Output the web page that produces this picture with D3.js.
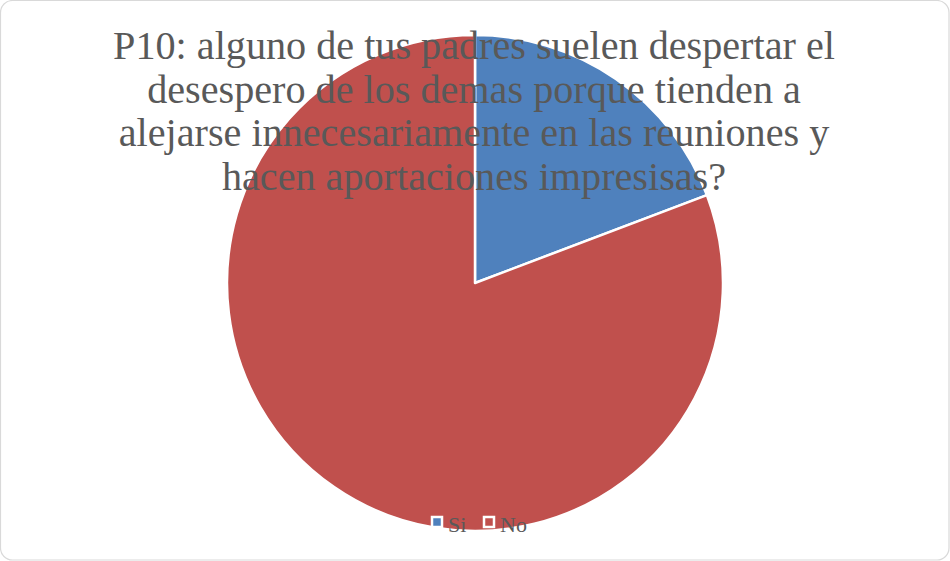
<!DOCTYPE html>
<html>
<head>
<meta charset="utf-8">
<script src="https://cdn.jsdelivr.net/npm/d3@7/dist/d3.min.js"></script>
<style>
  html, body { margin: 0; padding: 0; background: #fff; }
</style>
</head>
<body>
<svg id="chart"></svg>
<script>
// Data
const categories = ['Si', 'No'];
const values = [5, 21];
const colors = ['#4F81BD', '#C0504D'];
const titleLines = [
  'P10: alguno de tus padres suelen despertar el',
  'desespero de los demas porque tienden a',
  'alejarse innecesariamente en las reuniones y',
  'hacen aportaciones impresisas?'
];

const width = 950;
const height = 561;
const cx = 475, cy = 283, radius = 248;
const fontFamily = '"Liberation Serif", "DejaVu Serif", serif';

const svg = d3.select('#chart')
  .attr('width', width)
  .attr('height', height);

// chart area border
svg.append('rect')
  .attr('x', 0.5).attr('y', 0.5)
  .attr('width', width - 1.5).attr('height', height - 1.5)
  .attr('rx', 12).attr('ry', 12)
  .style('fill', '#fff')
  .style('stroke', '#d9d9d9')
  .style('stroke-width', 1.2);

// pie
const pie = d3.pie().sort(null).value(d => d);
const arc = d3.arc().innerRadius(0).outerRadius(radius);

const g = svg.append('g')
  .attr('transform', 'translate(' + cx + ',' + cy + ')');

g.selectAll('path')
  .data(pie(values))
  .enter().append('path')
  .attr('d', arc)
  .style('fill', (d, i) => colors[i])
  .style('stroke', '#fff')
  .style('stroke-width', 2.5)
  .style('stroke-linejoin', 'round');

// title, drawn over the pie
const title = svg.append('text')
  .attr('text-anchor', 'middle')
  .style('font-family', fontFamily)
  .style('fill', '#595959')
  .style('font-size', '32px');

const baselines = [59, 102.5, 146, 190];
title.selectAll('tspan')
  .data(titleLines)
  .enter().append('tspan')
  .attr('x', 474)
  .attr('y', (d, i) => baselines[i])
  .text(d => d);

// fit the first line to the width seen in the picture
const firstLen = title.select('tspan').node().getComputedTextLength();
title.style('font-size', (32 * 722 / firstLen).toFixed(2) + 'px');

// legend
const legend = svg.append('g').attr('class', 'legend');
const legendX = d3.scaleOrdinal().domain(categories).range([432, 484]);

const item = legend.selectAll('g')
  .data(categories)
  .enter().append('g')
  .attr('transform', d => 'translate(' + legendX(d) + ',517)');

item.append('rect')
  .attr('width', 10).attr('height', 10)
  .style('fill', (d, i) => colors[i])
  .style('stroke', '#fff')
  .style('stroke-width', 2.5);

item.append('text')
  .attr('x', 16)
  .attr('y', 14.5)
  .style('font-family', fontFamily)
  .style('font-size', '22px')
  .style('fill', '#595959')
  .text(d => d);
</script>
</body>
</html>
